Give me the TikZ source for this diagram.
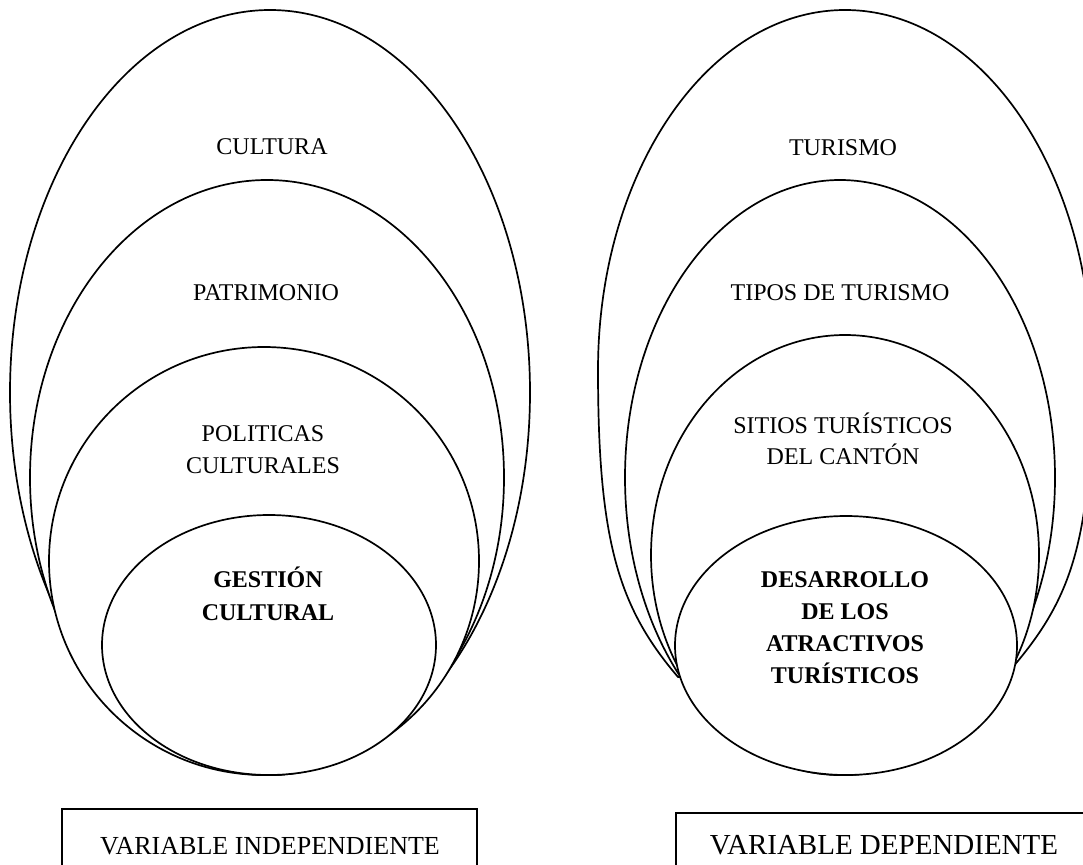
\documentclass[tikz,border=0pt]{standalone}
\usepackage{fontspec}
\setmainfont{Liberation Serif}
\tikzset{
  ring/.style={draw=black, line width=1.7pt, fill=white},
  lbl/.style={font=\fontsize{24}{28}\selectfont, inner sep=0pt, anchor=base},
  blbl/.style={lbl, font=\fontsize{24}{28}\selectfont\bfseries},
  varbox/.style={draw=black, line width=1.7pt}
}
\begin{document}
\begin{tikzpicture}[x=1pt,y=-1pt]
\useasboundingbox (0,0) rectangle (1083,864);
\clip (0,0) rectangle (1083,864);
% left group
\draw[ring] (270,392.5) ellipse [x radius=260, y radius=382.5];
\draw[ring] (267,477.5) ellipse [x radius=237, y radius=297.5];
\draw[ring] (264,561) ellipse [x radius=215, y radius=214];
\draw[ring] (269,645) ellipse [x radius=167, y radius=130];
% right group
\draw[ring] (598,370) arc[start angle=180, end angle=360, x radius=247, y radius=360]
  .. controls (1092,540) and (1072,598) .. (1012,668)
  -- (678,677)
  .. controls (618,607) and (598,540) .. (598,370) -- cycle;
\draw[ring] (840,477.5) ellipse [x radius=215, y radius=297.5];
\draw[ring] (845,555) ellipse [x radius=194, y radius=220];
\draw[ring] (846,645.5) ellipse [x radius=171, y radius=129.5];
% left labels
\node[lbl] (cultura) at (272,154) {CULTURA};
\node[lbl] (patrimonio) at (266,300) {PATRIMONIO};
\node[lbl] (pol1) at (263,441) {POLITICAS};
\node[lbl] (pol2) at (263,473) {CULTURALES};
\node[blbl] (ges1) at (268,587) {GESTIÓN};
\node[blbl] (ges2) at (268,620) {CULTURAL};
% right labels
\node[lbl] (turismo) at (843,155) {TURISMO};
\node[lbl] (tipos) at (840,300) {TIPOS DE TURISMO};
\node[lbl] (sit1) at (843,433) {SITIOS TURÍSTICOS};
\node[lbl] (sit2) at (843,464) {DEL CANTÓN};
\node[blbl] (des1) at (845,587) {DESARROLLO};
\node[blbl] (des2) at (845,619) {DE LOS};
\node[blbl] (des3) at (845,651) {ATRACTIVOS};
\node[blbl] (des4) at (845,683) {TURÍSTICOS};
% boxes
\draw[varbox] (62,809) rectangle (477,880);
\node[lbl, font=\fontsize{26}{30}\selectfont] (vind) at (270,854) {VARIABLE INDEPENDIENTE};
\draw[varbox] (676,813) rectangle (1100,880);
\node[lbl, font=\fontsize{29}{33}\selectfont] (vdep) at (884,854) {VARIABLE DEPENDIENTE};
\end{tikzpicture}
\end{document}
